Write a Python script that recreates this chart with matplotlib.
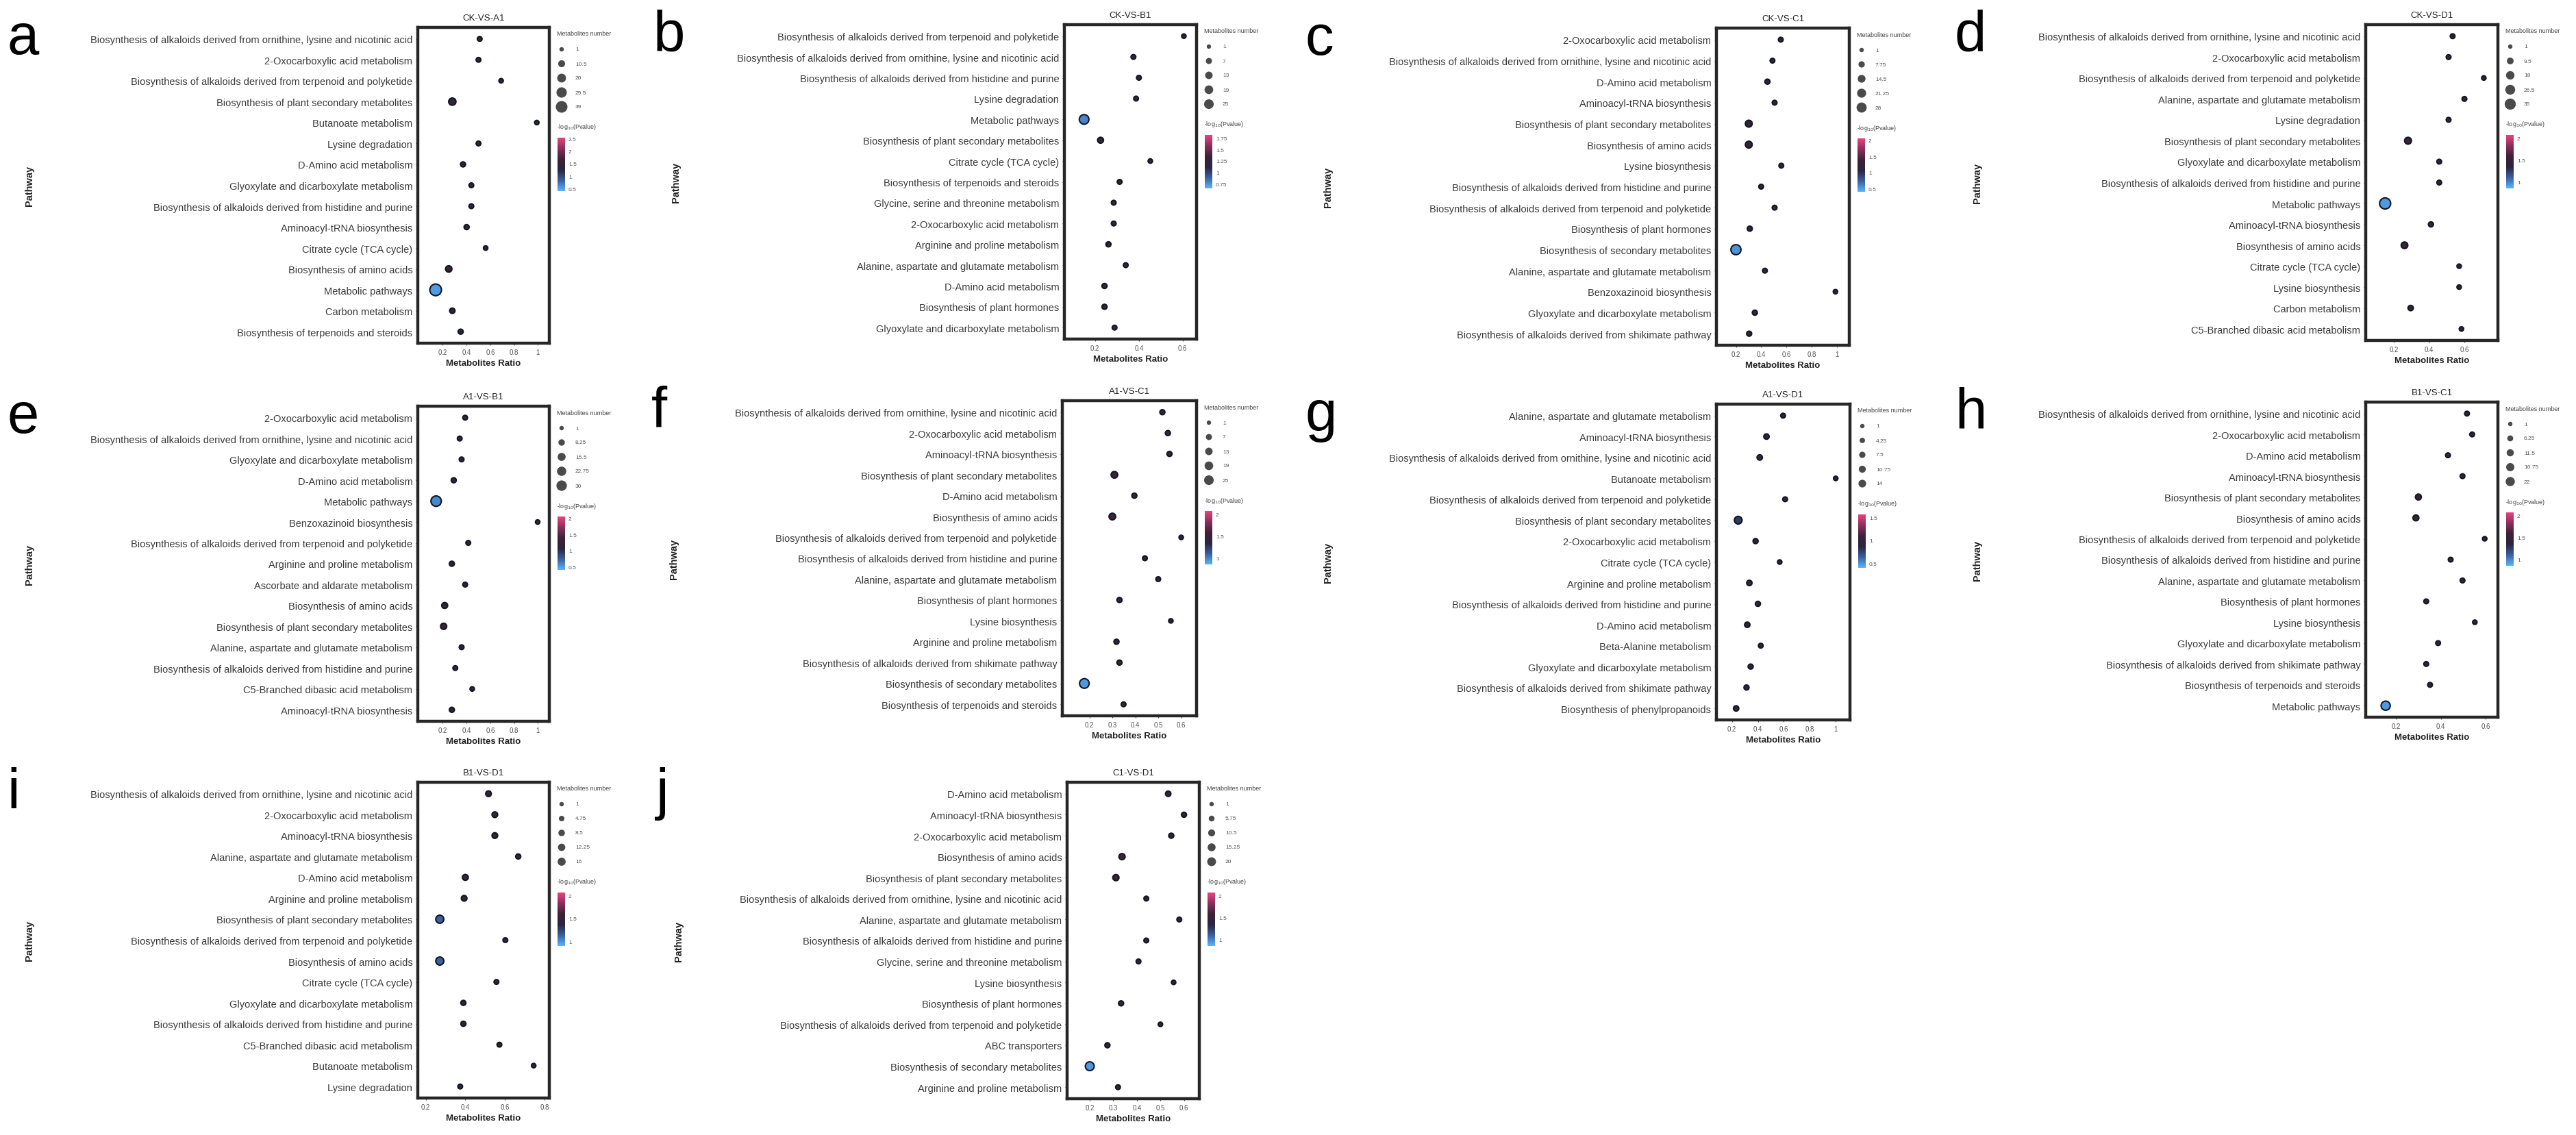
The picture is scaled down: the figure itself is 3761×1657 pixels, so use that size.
import numpy as np
import matplotlib
matplotlib.use("Agg")
import matplotlib.pyplot as plt
from matplotlib.colors import LinearSegmentedColormap, Normalize

plt.rcParams['font.family'] = ['Liberation Sans', 'DejaVu Sans']

# ---------------- data ----------------
title_a = "CK-VS-A1"
paths_a = ["Biosynthesis of alkaloids derived from ornithine, lysine and nicotinic acid",
           "2-Oxocarboxylic acid metabolism",
           "Biosynthesis of alkaloids derived from terpenoid and polyketide",
           "Biosynthesis of plant secondary metabolites",
           "Butanoate metabolism",
           "Lysine degradation",
           "D-Amino acid metabolism",
           "Glyoxylate and dicarboxylate metabolism",
           "Biosynthesis of alkaloids derived from histidine and purine",
           "Aminoacyl-tRNA biosynthesis",
           "Citrate cycle (TCA cycle)",
           "Biosynthesis of amino acids",
           "Metabolic pathways",
           "Carbon metabolism",
           "Biosynthesis of terpenoids and steroids"]
ratio_a = [0.51, 0.50, 0.69, 0.28, 0.99, 0.50, 0.37, 0.44, 0.44, 0.40, 0.56, 0.25, 0.14, 0.28, 0.35]
count_a = [2, 2, 1, 12, 1, 2, 3, 2, 2, 3, 1, 8, 39, 4, 3]
logp_a = [1.55, 1.5, 1.4, 1.6, 1.45, 1.5, 1.55, 1.5, 1.5, 1.55, 1.4, 1.55, 0.55, 1.5, 1.45]
xticks_a = [0.2, 0.4, 0.6, 0.8, 1.0]
xlim_a = [-0.01, 1.095]
sizeleg_a = [1, 10.5, 20, 29.5, 39]
cbticks_a = [2.5, 2.0, 1.5, 1.0, 0.5]

title_b = "CK-VS-B1"
paths_b = ["Biosynthesis of alkaloids derived from terpenoid and polyketide",
           "Biosynthesis of alkaloids derived from ornithine, lysine and nicotinic acid",
           "Biosynthesis of alkaloids derived from histidine and purine",
           "Lysine degradation",
           "Metabolic pathways",
           "Biosynthesis of plant secondary metabolites",
           "Citrate cycle (TCA cycle)",
           "Biosynthesis of terpenoids and steroids",
           "Glycine, serine and threonine metabolism",
           "2-Oxocarboxylic acid metabolism",
           "Arginine and proline metabolism",
           "Alanine, aspartate and glutamate metabolism",
           "D-Amino acid metabolism",
           "Biosynthesis of plant hormones",
           "Glyoxylate and dicarboxylate metabolism"]
ratio_b = [0.605, 0.375, 0.40, 0.387, 0.15, 0.225, 0.452, 0.312, 0.285, 0.285, 0.261, 0.34, 0.243, 0.243, 0.289]
count_b = [1, 2, 2, 2, 25, 6, 1, 2, 2, 2, 3, 2, 3, 3, 2]
logp_b = [1.25, 1.25, 1.25, 1.25, 0.8, 1.3, 1.2, 1.25, 1.25, 1.25, 1.3, 1.25, 1.3, 1.3, 1.25]
xticks_b = [0.2, 0.4, 0.6]
xlim_b = [0.06, 0.663]
sizeleg_b = [1, 7, 13, 19, 25]
cbticks_b = [1.75, 1.5, 1.25, 1.0, 0.75]

title_c = "CK-VS-C1"
paths_c = ["2-Oxocarboxylic acid metabolism",
           "Biosynthesis of alkaloids derived from ornithine, lysine and nicotinic acid",
           "D-Amino acid metabolism",
           "Aminoacyl-tRNA biosynthesis",
           "Biosynthesis of plant secondary metabolites",
           "Biosynthesis of amino acids",
           "Lysine biosynthesis",
           "Biosynthesis of alkaloids derived from histidine and purine",
           "Biosynthesis of alkaloids derived from terpenoid and polyketide",
           "Biosynthesis of plant hormones",
           "Biosynthesis of secondary metabolites",
           "Alanine, aspartate and glutamate metabolism",
           "Benzoxazinoid biosynthesis",
           "Glyoxylate and dicarboxylate metabolism",
           "Biosynthesis of alkaloids derived from shikimate pathway"]
ratio_c = [0.556, 0.49, 0.45, 0.507, 0.302, 0.302, 0.56, 0.40, 0.507, 0.31, 0.20, 0.43, 0.99, 0.35, 0.305]
count_c = [2, 2, 3, 2, 10, 10, 2, 2, 2, 3, 28, 2, 1, 3, 3]
logp_c = [1.3, 1.25, 1.3, 1.25, 1.35, 1.35, 1.25, 1.25, 1.25, 1.3, 0.55, 1.25, 1.2, 1.3, 1.3]
xticks_c = [0.2, 0.4, 0.6, 0.8, 1.0]
xlim_c = [0.045, 1.10]
sizeleg_c = [1, 7.75, 14.5, 21.25, 28]
cbticks_c = [2.0, 1.5, 1.0, 0.5]

title_d = "CK-VS-D1"
paths_d = ["Biosynthesis of alkaloids derived from ornithine, lysine and nicotinic acid",
           "2-Oxocarboxylic acid metabolism",
           "Biosynthesis of alkaloids derived from terpenoid and polyketide",
           "Alanine, aspartate and glutamate metabolism",
           "Lysine degradation",
           "Biosynthesis of plant secondary metabolites",
           "Glyoxylate and dicarboxylate metabolism",
           "Biosynthesis of alkaloids derived from histidine and purine",
           "Metabolic pathways",
           "Aminoacyl-tRNA biosynthesis",
           "Biosynthesis of amino acids",
           "Citrate cycle (TCA cycle)",
           "Lysine biosynthesis",
           "Carbon metabolism",
           "C5-Branched dibasic acid metabolism"]
ratio_d = [0.533, 0.51, 0.71, 0.60, 0.51, 0.28, 0.457, 0.457, 0.15, 0.41, 0.26, 0.57, 0.57, 0.295, 0.583]
count_d = [2, 2, 1, 2, 2, 10, 2, 2, 35, 3, 9, 1, 1, 4, 1]
logp_d = [1.5, 1.5, 1.45, 1.5, 1.5, 1.55, 1.5, 1.5, 0.95, 1.5, 1.55, 1.45, 1.45, 1.5, 1.45]
xticks_d = [0.2, 0.4, 0.6]
xlim_d = [0.04, 0.79]
sizeleg_d = [1, 9.5, 18, 26.5, 35]
cbticks_d = [2.0, 1.5, 1.0]

title_e = "A1-VS-B1"
paths_e = ["2-Oxocarboxylic acid metabolism",
           "Biosynthesis of alkaloids derived from ornithine, lysine and nicotinic acid",
           "Glyoxylate and dicarboxylate metabolism",
           "D-Amino acid metabolism",
           "Metabolic pathways",
           "Benzoxazinoid biosynthesis",
           "Biosynthesis of alkaloids derived from terpenoid and polyketide",
           "Arginine and proline metabolism",
           "Ascorbate and aldarate metabolism",
           "Biosynthesis of amino acids",
           "Biosynthesis of plant secondary metabolites",
           "Alanine, aspartate and glutamate metabolism",
           "Biosynthesis of alkaloids derived from histidine and purine",
           "C5-Branched dibasic acid metabolism",
           "Aminoacyl-tRNA biosynthesis"]
ratio_e = [0.388, 0.342, 0.358, 0.292, 0.144, 0.997, 0.414, 0.276, 0.388, 0.216, 0.207, 0.358, 0.305, 0.447, 0.276]
count_e = [2, 2, 2, 3, 30, 1, 2, 3, 2, 6, 7, 2, 2, 1, 3]
logp_e = [1.25, 1.25, 1.25, 1.3, 0.6, 1.2, 1.25, 1.3, 1.25, 1.35, 1.35, 1.25, 1.25, 1.2, 1.3]
xticks_e = [0.2, 0.4, 0.6, 0.8, 1.0]
xlim_e = [-0.01, 1.095]
sizeleg_e = [1, 8.25, 15.5, 22.75, 30]
cbticks_e = [2.0, 1.5, 1.0, 0.5]

title_f = "A1-VS-C1"
paths_f = ["Biosynthesis of alkaloids derived from ornithine, lysine and nicotinic acid",
           "2-Oxocarboxylic acid metabolism",
           "Aminoacyl-tRNA biosynthesis",
           "Biosynthesis of plant secondary metabolites",
           "D-Amino acid metabolism",
           "Biosynthesis of amino acids",
           "Biosynthesis of alkaloids derived from terpenoid and polyketide",
           "Biosynthesis of alkaloids derived from histidine and purine",
           "Alanine, aspartate and glutamate metabolism",
           "Biosynthesis of plant hormones",
           "Lysine biosynthesis",
           "Arginine and proline metabolism",
           "Biosynthesis of alkaloids derived from shikimate pathway",
           "Biosynthesis of secondary metabolites",
           "Biosynthesis of terpenoids and steroids"]
ratio_f = [0.518, 0.542, 0.549, 0.309, 0.396, 0.30, 0.60, 0.442, 0.50, 0.331, 0.555, 0.318, 0.331, 0.178, 0.349]
count_f = [3, 3, 3, 9, 3, 9, 1, 2, 2, 3, 1, 3, 3, 25, 2]
logp_f = [1.55, 1.55, 1.55, 1.6, 1.5, 1.6, 1.45, 1.5, 1.5, 1.5, 1.45, 1.5, 1.5, 0.95, 1.5]
xticks_f = [0.2, 0.3, 0.4, 0.5, 0.6]
xlim_f = [0.082, 0.667]
sizeleg_f = [1, 7, 13, 19, 25]
cbticks_f = [2.0, 1.5, 1.0]

title_g = "A1-VS-D1"
paths_g = ["Alanine, aspartate and glutamate metabolism",
           "Aminoacyl-tRNA biosynthesis",
           "Biosynthesis of alkaloids derived from ornithine, lysine and nicotinic acid",
           "Butanoate metabolism",
           "Biosynthesis of alkaloids derived from terpenoid and polyketide",
           "Biosynthesis of plant secondary metabolites",
           "2-Oxocarboxylic acid metabolism",
           "Citrate cycle (TCA cycle)",
           "Arginine and proline metabolism",
           "Biosynthesis of alkaloids derived from histidine and purine",
           "D-Amino acid metabolism",
           "Beta-Alanine metabolism",
           "Glyoxylate and dicarboxylate metabolism",
           "Biosynthesis of alkaloids derived from shikimate pathway",
           "Biosynthesis of phenylpropanoids"]
ratio_g = [0.594, 0.466, 0.414, 1.0, 0.61, 0.248, 0.382, 0.568, 0.334, 0.40, 0.318, 0.422, 0.344, 0.312, 0.232]
count_g = [2, 4, 4, 1, 2, 14, 3, 1, 4, 3, 4, 2, 3, 3, 4]
logp_g = [1.0, 1.05, 1.05, 0.95, 1.0, 0.8, 1.0, 0.95, 1.05, 1.0, 1.05, 1.0, 1.0, 1.0, 1.05]
xticks_g = [0.2, 0.4, 0.6, 0.8, 1.0]
xlim_g = [0.08, 1.11]
sizeleg_g = [1, 4.25, 7.5, 10.75, 14]
cbticks_g = [1.5, 1.0, 0.5]

title_h = "B1-VS-C1"
paths_h = ["Biosynthesis of alkaloids derived from ornithine, lysine and nicotinic acid",
           "2-Oxocarboxylic acid metabolism",
           "D-Amino acid metabolism",
           "Aminoacyl-tRNA biosynthesis",
           "Biosynthesis of plant secondary metabolites",
           "Biosynthesis of amino acids",
           "Biosynthesis of alkaloids derived from terpenoid and polyketide",
           "Biosynthesis of alkaloids derived from histidine and purine",
           "Alanine, aspartate and glutamate metabolism",
           "Biosynthesis of plant hormones",
           "Lysine biosynthesis",
           "Glyoxylate and dicarboxylate metabolism",
           "Biosynthesis of alkaloids derived from shikimate pathway",
           "Biosynthesis of terpenoids and steroids",
           "Metabolic pathways"]
ratio_h = [0.517, 0.54, 0.432, 0.497, 0.30, 0.289, 0.596, 0.444, 0.497, 0.335, 0.552, 0.388, 0.335, 0.352, 0.154]
count_h = [2, 2, 2, 2, 6, 6, 1, 2, 2, 2, 1, 2, 2, 2, 22]
logp_h = [1.5, 1.5, 1.5, 1.5, 1.55, 1.55, 1.45, 1.5, 1.5, 1.5, 1.45, 1.5, 1.5, 1.5, 0.95]
xticks_h = [0.2, 0.4, 0.6]
xlim_h = [0.065, 0.655]
sizeleg_h = [1, 6.25, 11.5, 16.75, 22]
cbticks_h = [2.0, 1.5, 1.0]

title_i = "B1-VS-D1"
paths_i = ["Biosynthesis of alkaloids derived from ornithine, lysine and nicotinic acid",
           "2-Oxocarboxylic acid metabolism",
           "Aminoacyl-tRNA biosynthesis",
           "Alanine, aspartate and glutamate metabolism",
           "D-Amino acid metabolism",
           "Arginine and proline metabolism",
           "Biosynthesis of plant secondary metabolites",
           "Biosynthesis of alkaloids derived from terpenoid and polyketide",
           "Biosynthesis of amino acids",
           "Citrate cycle (TCA cycle)",
           "Glyoxylate and dicarboxylate metabolism",
           "Biosynthesis of alkaloids derived from histidine and purine",
           "C5-Branched dibasic acid metabolism",
           "Butanoate metabolism",
           "Lysine degradation"]
ratio_i = [0.517, 0.549, 0.549, 0.667, 0.40, 0.394, 0.271, 0.602, 0.271, 0.557, 0.39, 0.39, 0.572, 0.745, 0.374]
count_i = [5, 5, 5, 3, 6, 5, 16, 2, 16, 2, 3, 3, 2, 1, 2]
logp_i = [1.55, 1.55, 1.55, 1.5, 1.55, 1.55, 1.15, 1.45, 1.15, 1.45, 1.5, 1.5, 1.45, 1.45, 1.45]
xticks_i = [0.2, 0.4, 0.6, 0.8]
xlim_i = [0.16, 0.824]
sizeleg_i = [1, 4.75, 8.5, 12.25, 16]
cbticks_i = [2.0, 1.5, 1.0]

title_j = "C1-VS-D1"
paths_j = ["D-Amino acid metabolism",
           "Aminoacyl-tRNA biosynthesis",
           "2-Oxocarboxylic acid metabolism",
           "Biosynthesis of amino acids",
           "Biosynthesis of plant secondary metabolites",
           "Biosynthesis of alkaloids derived from ornithine, lysine and nicotinic acid",
           "Alanine, aspartate and glutamate metabolism",
           "Biosynthesis of alkaloids derived from histidine and purine",
           "Glycine, serine and threonine metabolism",
           "Lysine biosynthesis",
           "Biosynthesis of plant hormones",
           "Biosynthesis of alkaloids derived from terpenoid and polyketide",
           "ABC transporters",
           "Biosynthesis of secondary metabolites",
           "Arginine and proline metabolism"]
ratio_j = [0.533, 0.60, 0.546, 0.337, 0.311, 0.44, 0.58, 0.44, 0.407, 0.556, 0.333, 0.50, 0.275, 0.20, 0.32]
count_j = [4, 3, 3, 7, 7, 2, 2, 2, 2, 1, 3, 1, 3, 20, 2]
logp_j = [1.55, 1.5, 1.5, 1.6, 1.6, 1.5, 1.5, 1.5, 1.5, 1.45, 1.5, 1.45, 1.5, 0.95, 1.5]
xticks_j = [0.2, 0.3, 0.4, 0.5, 0.6]
xlim_j = [0.104, 0.665]
sizeleg_j = [1, 5.75, 10.5, 15.25, 20]
cbticks_j = [2.0, 1.5, 1.0]

# ---------------- layout ----------------
W, H = 3762, 1658
fig = plt.figure(figsize=(W / 100, H / 100), dpi=100)
fig.patch.set_facecolor('white')

cmap = LinearSegmentedColormap.from_list(
    'pv', ['#5ab4ff', '#3a5f9e', '#2a2540', '#3d2236', '#8a2f5e', '#e8437c'])


def px_axes(l, t, r, b):
    return fig.add_axes([l / W, 1 - b / H, (r - l) / W, (b - t) / H])


def dot_size(c):
    return 18 + np.asarray(c, dtype=float) * 3.4


def draw_panel(letter, title, paths, ratio, count, logp, xticks, xlim,
               sizeleg, cbticks, box):
    l, t, r, b = box
    n = len(paths)
    y = np.arange(n)
    norm = Normalize(vmin=min(min(logp), min(cbticks)) - 0.08,
                     vmax=max(max(logp), max(cbticks)) + 0.08)
    ax = px_axes(l, t, r, b)
    ax.scatter(ratio, y, s=dot_size(count), c=logp, cmap=cmap, norm=norm,
               edgecolors='#111722', linewidths=1.5, zorder=3)
    ax.set_ylim(n - 1 + 0.55, -0.55)
    ax.set_xlim(xlim)
    ax.set_yticks(y)
    ax.set_yticklabels(paths, fontsize=10.5, color='#3a3a3a')
    ax.set_xticks(xticks)
    ax.set_xticklabels([f"{v:g}" for v in xticks])
    ax.tick_params(axis='y', length=2.5, width=0.8, pad=3, color='#555555')
    ax.tick_params(axis='x', length=2.5, width=0.8, pad=3, labelsize=7,
                   colors='#555555')
    for sp in ax.spines.values():
        sp.set_linewidth(3.2)
        sp.set_color('#262626')
    ax.set_title(title, fontsize=9.5, pad=8, color='#222222')
    ax.set_xlabel('Metabolites Ratio', fontsize=9.5, fontweight='bold',
                  labelpad=4, color='#222222')
    fig.text((l - 567) / W, 1 - ((t + b) / 2) / H, 'Pathway', rotation=90,
             ha='center', va='center', fontsize=10.5, fontweight='bold',
             color='#222222')
    fig.text((l - 600) / W, 1 - (t + 38) / H, letter, fontsize=60,
             ha='left', va='baseline', color='black')

    # legend area
    lax = px_axes(r + 8, t, r + 118, t + 250)
    lax.set_xlim(0, 110)
    lax.set_ylim(250, 0)
    lax.axis('off')
    lax.text(3, 9, 'Metabolites number', fontsize=6.5, va='center',
             ha='left', color='#444444')
    ly = 32 + 21 * np.arange(len(sizeleg))
    lax.scatter(np.full(len(sizeleg), 10), ly, s=dot_size(sizeleg),
                c='#4a4a4a', edgecolors='none', clip_on=False)
    for yy, v in zip(ly, sizeleg):
        lax.text(30, yy, f"{v:g}", fontsize=6, va='center', ha='left',
                 color='#555555')
    lax.text(3, 145, r'-log$_{10}$(Pvalue)', fontsize=6.5, va='center',
             ha='left', color='#444444')
    c0, c1 = 161, 239
    grad = np.linspace(norm.vmax, norm.vmin, 200)[:, None]
    lax.imshow(grad, extent=(4, 15, c1, c0), cmap=cmap, norm=norm,
               aspect='auto', origin='upper', interpolation='bilinear')
    for v in cbticks:
        frac = (v - norm.vmin) / (norm.vmax - norm.vmin)
        yy = c1 - frac * (c1 - c0)
        lax.text(20, yy, f"{v:g}", fontsize=6, va='center', ha='left',
                 color='#555555')


panels = [
    ('a', title_a, paths_a, ratio_a, count_a, logp_a, xticks_a, xlim_a, sizeleg_a, cbticks_a, (610, 41, 802, 502)),
    ('b', title_b, paths_b, ratio_b, count_b, logp_b, xticks_b, xlim_b, sizeleg_b, cbticks_b, (1554, 37, 1747, 496)),
    ('c', title_c, paths_c, ratio_c, count_c, logp_c, xticks_c, xlim_c, sizeleg_c, cbticks_c, (2506, 42, 2700, 505)),
    ('d', title_d, paths_d, ratio_d, count_d, logp_d, xticks_d, xlim_d, sizeleg_d, cbticks_d, (3454, 37, 3647, 498)),
    ('e', title_e, paths_e, ratio_e, count_e, logp_e, xticks_e, xlim_e, sizeleg_e, cbticks_e, (610, 594, 802, 1054)),
    ('f', title_f, paths_f, ratio_f, count_f, logp_f, xticks_f, xlim_f, sizeleg_f, cbticks_f, (1551, 586, 1747, 1046)),
    ('g', title_g, paths_g, ratio_g, count_g, logp_g, xticks_g, xlim_g, sizeleg_g, cbticks_g, (2506, 591, 2701, 1052)),
    ('h', title_h, paths_h, ratio_h, count_h, logp_h, xticks_h, xlim_h, sizeleg_h, cbticks_h, (3454, 588, 3647, 1048)),
    ('i', title_i, paths_i, ratio_i, count_i, logp_i, xticks_i, xlim_i, sizeleg_i, cbticks_i, (610, 1143, 802, 1604)),
    ('j', title_j, paths_j, ratio_j, count_j, logp_j, xticks_j, xlim_j, sizeleg_j, cbticks_j, (1558, 1143, 1751, 1605)),
]

for p in panels:
    draw_panel(*p)

fig.savefig('out.png', dpi=100, facecolor='white')
